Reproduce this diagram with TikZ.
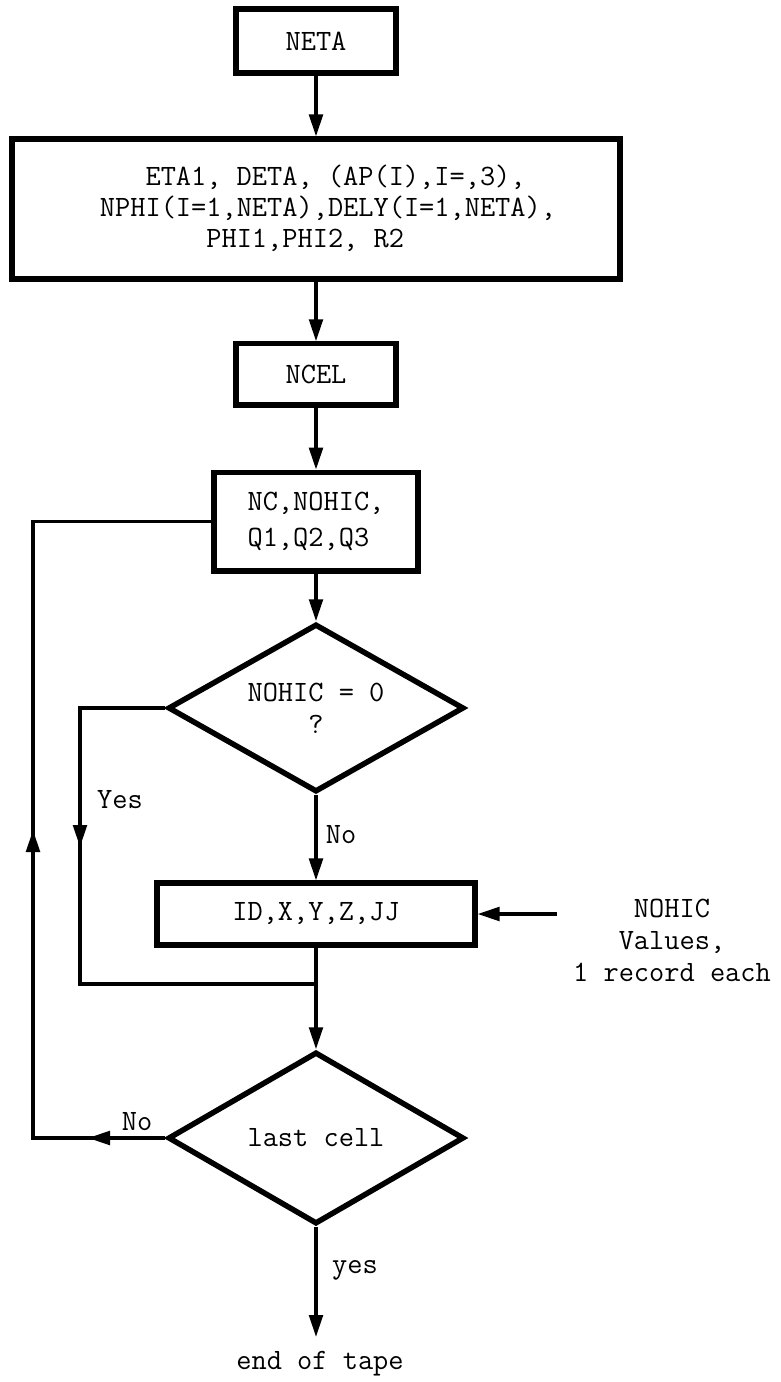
\documentclass[tikz,border=0pt]{standalone}
\usetikzlibrary{arrows.meta,shapes.geometric}
\begin{document}
\begin{tikzpicture}[>={Triangle[length=0.55cm,width=0.34cm]}, line width=2.5pt,
  every node/.style={font=\fontsize{21}{23}\selectfont\ttfamily, inner sep=0pt},
  box/.style={draw, line width=3.6pt, rectangle},
  ask/.style={draw, line width=3.9pt, diamond, aspect=1.7}]
\useasboundingbox (0,0) rectangle (19.5,-34.55);
% Hauptachse x=\mx, Schleife links x=\lx, Ja-Zweig x=\yx
\def\mx{7.9}
\def\lx{0.825}
\def\yx{2.0}
% Kaesten
\node[box, minimum width=4.0cm, minimum height=1.6cm] (neta) at (\mx,-1.025) {NETA};
\node[box, minimum width=15.2cm, minimum height=3.5cm] (vars) at (\mx,-5.225) {};
\node[align=left, font=\fontsize{21}{22}\selectfont\ttfamily] (varstext) at (8.2,-5.2)
  {\phantom{XXX}ETA1, DETA, (AP(I),I=,3),\\NPHI(I=1,NETA),DELY(I=1,NETA),\\\phantom{XXXXXXX}PHI1,PHI2, R2};
\node[box, minimum width=4.0cm, minimum height=1.53cm] (ncel) at (\mx,-9.36) {NCEL};
\node[box, minimum width=5.1cm, minimum height=2.47cm, align=left,
  font=\fontsize{21}{25.6}\selectfont\ttfamily] (nc) at (\mx,-13.04) {NC,NOHIC,\\Q1,Q2,Q3};
\node[ask, minimum width=7.4cm, minimum height=4.2cm, align=center,
  font=\fontsize{21}{22.8}\selectfont\ttfamily] (nohic) at (\mx,-17.7) {NOHIC = 0\\?};
\node[box, minimum width=7.95cm, minimum height=1.55cm] (rec) at (\mx,-22.85) {ID,X,Y,Z,JJ};
\node[ask, minimum width=7.4cm, minimum height=4.3cm] (last) at (\mx,-28.45) {last cell};
\node (eot) at (8.0,-34.1) {end of tape};
\node[align=center, font=\fontsize{21}{22.8}\selectfont\ttfamily] (src) at (16.8,-23.5)
  {NOHIC\\Values,\\1 record each};
% Beschriftungen
\node (nolbl)   at (8.525,-20.875) {No};
\node (yeslbl)  at (3.0,-20.0)     {Yes};
\node (nolbl2)  at (3.425,-28.05)  {No};
\node (yeslbl2) at (8.875,-31.75)  {yes};
% Hilfspunkte
\coordinate (join)    at (\mx,-24.6);
\coordinate (yesarr)  at (\yx,-21.175);
\coordinate (yesend)  at (\yx,-24.6);
\coordinate (loopbot) at (\lx,-28.45);
\coordinate (loopup)  at (\lx,-20.75);
\coordinate (looptop) at (\lx,-13.04);
\coordinate (noarr)   at (2.2,-28.45);
\coordinate (infrom)  at (13.925,-22.85);
\coordinate (tapeend) at (\mx,-33.425);
% Hauptfluss
\draw[->] (neta) -- (vars);
\draw[->] (vars) -- (ncel);
\draw[->] (ncel) -- (nc);
\draw[->] (nc) -- (nohic);
\draw[->] (nohic) -- (rec);
\draw (rec) -- (join);
\draw[->] (join) -- (last);
\draw[->] (last) -- (tapeend);
\draw[->] (infrom) -- (rec);
% Ja-Zweig
\draw (nohic.west) -| (yesend) -- (join);
\draw[->] (nohic.west -| yesend) -- (yesarr);
% Schleife zurueck
\draw (last.west) -- (loopbot) -- (looptop) -- (nc.west);
\draw[->] (last.west) -- (noarr);
\draw[->] (loopbot) -- (loopup);
\end{tikzpicture}
\end{document}
